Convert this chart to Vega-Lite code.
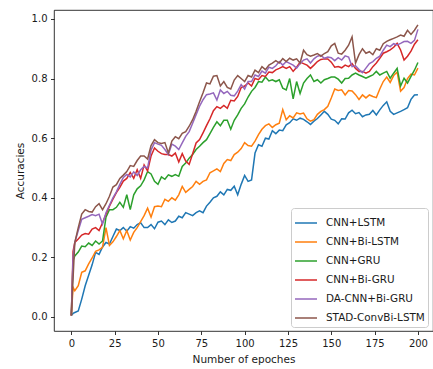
{
  "$schema": "https://vega.github.io/schema/vega-lite/v6.json",
  "width": 379,
  "height": 321,
  "autosize": {"type": "none"},
  "padding": {"left": 54, "top": 10, "right": 0, "bottom": 38},
  "background": "white",
  "config": {
    "font": "DejaVu Sans",
    "view": {"stroke": "#000000", "strokeWidth": 0.8},
    "axis": {
      "domain": false,
      "grid": false,
      "tickColor": "#000000",
      "tickSize": 3.5,
      "tickWidth": 0.8,
      "labelColor": "#1a1a1a",
      "labelFontSize": 10,
      "labelPadding": 3.5,
      "titleColor": "#1a1a1a",
      "titleFontSize": 10.5,
      "titleFontWeight": "normal"
    }
  },
  "data": {
    "values": [
      {"epoch": 0, "CNN+LSTM": 0.005, "CNN+Bi-LSTM": 0.005, "CNN+GRU": 0.005, "CNN+Bi-GRU": 0.005, "DA-CNN+Bi-GRU": 0.005, "STAD-ConvBi-LSTM": 0.005},
      {"epoch": 1, "CNN+LSTM": 0.012, "CNN+Bi-LSTM": 0.1, "CNN+GRU": 0.19, "CNN+Bi-GRU": 0.22, "DA-CNN+Bi-GRU": 0.2, "STAD-ConvBi-LSTM": 0.13},
      {"epoch": 2, "CNN+LSTM": 0.015, "CNN+Bi-LSTM": 0.088, "CNN+GRU": 0.205, "CNN+Bi-GRU": 0.25, "DA-CNN+Bi-GRU": 0.25, "STAD-ConvBi-LSTM": 0.25},
      {"epoch": 4, "CNN+LSTM": 0.02, "CNN+Bi-LSTM": 0.105, "CNN+GRU": 0.218, "CNN+Bi-GRU": 0.262, "DA-CNN+Bi-GRU": 0.29, "STAD-ConvBi-LSTM": 0.3},
      {"epoch": 6, "CNN+LSTM": 0.06, "CNN+Bi-LSTM": 0.15, "CNN+GRU": 0.238, "CNN+Bi-GRU": 0.275, "DA-CNN+Bi-GRU": 0.328, "STAD-ConvBi-LSTM": 0.345},
      {"epoch": 8, "CNN+LSTM": 0.105, "CNN+Bi-LSTM": 0.155, "CNN+GRU": 0.236, "CNN+Bi-GRU": 0.28, "DA-CNN+Bi-GRU": 0.333, "STAD-ConvBi-LSTM": 0.36},
      {"epoch": 10, "CNN+LSTM": 0.14, "CNN+Bi-LSTM": 0.178, "CNN+GRU": 0.248, "CNN+Bi-GRU": 0.278, "DA-CNN+Bi-GRU": 0.338, "STAD-ConvBi-LSTM": 0.354},
      {"epoch": 12, "CNN+LSTM": 0.175, "CNN+Bi-LSTM": 0.198, "CNN+GRU": 0.24, "CNN+Bi-GRU": 0.295, "DA-CNN+Bi-GRU": 0.344, "STAD-ConvBi-LSTM": 0.352},
      {"epoch": 14, "CNN+LSTM": 0.217, "CNN+Bi-LSTM": 0.22, "CNN+GRU": 0.255, "CNN+Bi-GRU": 0.3, "DA-CNN+Bi-GRU": 0.34, "STAD-ConvBi-LSTM": 0.37},
      {"epoch": 16, "CNN+LSTM": 0.21, "CNN+Bi-LSTM": 0.225, "CNN+GRU": 0.245, "CNN+Bi-GRU": 0.29, "DA-CNN+Bi-GRU": 0.345, "STAD-ConvBi-LSTM": 0.38},
      {"epoch": 18, "CNN+LSTM": 0.235, "CNN+Bi-LSTM": 0.234, "CNN+GRU": 0.255, "CNN+Bi-GRU": 0.316, "DA-CNN+Bi-GRU": 0.312, "STAD-ConvBi-LSTM": 0.36},
      {"epoch": 20, "CNN+LSTM": 0.25, "CNN+Bi-LSTM": 0.3, "CNN+GRU": 0.335, "CNN+Bi-GRU": 0.345, "DA-CNN+Bi-GRU": 0.35, "STAD-ConvBi-LSTM": 0.38},
      {"epoch": 22, "CNN+LSTM": 0.245, "CNN+Bi-LSTM": 0.24, "CNN+GRU": 0.36, "CNN+Bi-GRU": 0.372, "DA-CNN+Bi-GRU": 0.375, "STAD-ConvBi-LSTM": 0.405},
      {"epoch": 24, "CNN+LSTM": 0.27, "CNN+Bi-LSTM": 0.252, "CNN+GRU": 0.36, "CNN+Bi-GRU": 0.395, "DA-CNN+Bi-GRU": 0.4, "STAD-ConvBi-LSTM": 0.436},
      {"epoch": 26, "CNN+LSTM": 0.295, "CNN+Bi-LSTM": 0.27, "CNN+GRU": 0.368, "CNN+Bi-GRU": 0.417, "DA-CNN+Bi-GRU": 0.42, "STAD-ConvBi-LSTM": 0.444},
      {"epoch": 28, "CNN+LSTM": 0.29, "CNN+Bi-LSTM": 0.29, "CNN+GRU": 0.385, "CNN+Bi-GRU": 0.435, "DA-CNN+Bi-GRU": 0.445, "STAD-ConvBi-LSTM": 0.465},
      {"epoch": 30, "CNN+LSTM": 0.3, "CNN+Bi-LSTM": 0.262, "CNN+GRU": 0.368, "CNN+Bi-GRU": 0.456, "DA-CNN+Bi-GRU": 0.468, "STAD-ConvBi-LSTM": 0.476},
      {"epoch": 32, "CNN+LSTM": 0.288, "CNN+Bi-LSTM": 0.29, "CNN+GRU": 0.41, "CNN+Bi-GRU": 0.465, "DA-CNN+Bi-GRU": 0.478, "STAD-ConvBi-LSTM": 0.488},
      {"epoch": 34, "CNN+LSTM": 0.303, "CNN+Bi-LSTM": 0.258, "CNN+GRU": 0.36, "CNN+Bi-GRU": 0.485, "DA-CNN+Bi-GRU": 0.47, "STAD-ConvBi-LSTM": 0.508},
      {"epoch": 36, "CNN+LSTM": 0.298, "CNN+Bi-LSTM": 0.284, "CNN+GRU": 0.41, "CNN+Bi-GRU": 0.465, "DA-CNN+Bi-GRU": 0.487, "STAD-ConvBi-LSTM": 0.505},
      {"epoch": 38, "CNN+LSTM": 0.31, "CNN+Bi-LSTM": 0.3, "CNN+GRU": 0.43, "CNN+Bi-GRU": 0.494, "DA-CNN+Bi-GRU": 0.475, "STAD-ConvBi-LSTM": 0.525},
      {"epoch": 40, "CNN+LSTM": 0.316, "CNN+Bi-LSTM": 0.32, "CNN+GRU": 0.44, "CNN+Bi-GRU": 0.465, "DA-CNN+Bi-GRU": 0.494, "STAD-ConvBi-LSTM": 0.54},
      {"epoch": 42, "CNN+LSTM": 0.3, "CNN+Bi-LSTM": 0.34, "CNN+GRU": 0.46, "CNN+Bi-GRU": 0.51, "DA-CNN+Bi-GRU": 0.505, "STAD-ConvBi-LSTM": 0.54},
      {"epoch": 44, "CNN+LSTM": 0.3, "CNN+Bi-LSTM": 0.365, "CNN+GRU": 0.488, "CNN+Bi-GRU": 0.49, "DA-CNN+Bi-GRU": 0.5, "STAD-ConvBi-LSTM": 0.53},
      {"epoch": 46, "CNN+LSTM": 0.31, "CNN+Bi-LSTM": 0.335, "CNN+GRU": 0.48, "CNN+Bi-GRU": 0.54, "DA-CNN+Bi-GRU": 0.56, "STAD-ConvBi-LSTM": 0.575},
      {"epoch": 48, "CNN+LSTM": 0.296, "CNN+Bi-LSTM": 0.37, "CNN+GRU": 0.455, "CNN+Bi-GRU": 0.567, "DA-CNN+Bi-GRU": 0.585, "STAD-ConvBi-LSTM": 0.595},
      {"epoch": 50, "CNN+LSTM": 0.318, "CNN+Bi-LSTM": 0.372, "CNN+GRU": 0.445, "CNN+Bi-GRU": 0.556, "DA-CNN+Bi-GRU": 0.58, "STAD-ConvBi-LSTM": 0.585},
      {"epoch": 52, "CNN+LSTM": 0.322, "CNN+Bi-LSTM": 0.37, "CNN+GRU": 0.47, "CNN+Bi-GRU": 0.548, "DA-CNN+Bi-GRU": 0.576, "STAD-ConvBi-LSTM": 0.582},
      {"epoch": 54, "CNN+LSTM": 0.31, "CNN+Bi-LSTM": 0.395, "CNN+GRU": 0.462, "CNN+Bi-GRU": 0.545, "DA-CNN+Bi-GRU": 0.562, "STAD-ConvBi-LSTM": 0.585},
      {"epoch": 56, "CNN+LSTM": 0.326, "CNN+Bi-LSTM": 0.388, "CNN+GRU": 0.477, "CNN+Bi-GRU": 0.545, "DA-CNN+Bi-GRU": 0.545, "STAD-ConvBi-LSTM": 0.55},
      {"epoch": 58, "CNN+LSTM": 0.317, "CNN+Bi-LSTM": 0.4, "CNN+GRU": 0.472, "CNN+Bi-GRU": 0.54, "DA-CNN+Bi-GRU": 0.58, "STAD-ConvBi-LSTM": 0.59},
      {"epoch": 60, "CNN+LSTM": 0.322, "CNN+Bi-LSTM": 0.392, "CNN+GRU": 0.478, "CNN+Bi-GRU": 0.55, "DA-CNN+Bi-GRU": 0.573, "STAD-ConvBi-LSTM": 0.605},
      {"epoch": 62, "CNN+LSTM": 0.338, "CNN+Bi-LSTM": 0.41, "CNN+GRU": 0.472, "CNN+Bi-GRU": 0.52, "DA-CNN+Bi-GRU": 0.562, "STAD-ConvBi-LSTM": 0.598},
      {"epoch": 64, "CNN+LSTM": 0.333, "CNN+Bi-LSTM": 0.438, "CNN+GRU": 0.505, "CNN+Bi-GRU": 0.548, "DA-CNN+Bi-GRU": 0.584, "STAD-ConvBi-LSTM": 0.616},
      {"epoch": 66, "CNN+LSTM": 0.35, "CNN+Bi-LSTM": 0.418, "CNN+GRU": 0.517, "CNN+Bi-GRU": 0.523, "DA-CNN+Bi-GRU": 0.606, "STAD-ConvBi-LSTM": 0.622},
      {"epoch": 68, "CNN+LSTM": 0.345, "CNN+Bi-LSTM": 0.428, "CNN+GRU": 0.533, "CNN+Bi-GRU": 0.512, "DA-CNN+Bi-GRU": 0.622, "STAD-ConvBi-LSTM": 0.64},
      {"epoch": 70, "CNN+LSTM": 0.34, "CNN+Bi-LSTM": 0.438, "CNN+GRU": 0.545, "CNN+Bi-GRU": 0.548, "DA-CNN+Bi-GRU": 0.65, "STAD-ConvBi-LSTM": 0.662},
      {"epoch": 72, "CNN+LSTM": 0.35, "CNN+Bi-LSTM": 0.455, "CNN+GRU": 0.562, "CNN+Bi-GRU": 0.584, "DA-CNN+Bi-GRU": 0.679, "STAD-ConvBi-LSTM": 0.69},
      {"epoch": 74, "CNN+LSTM": 0.356, "CNN+Bi-LSTM": 0.445, "CNN+GRU": 0.573, "CNN+Bi-GRU": 0.595, "DA-CNN+Bi-GRU": 0.707, "STAD-ConvBi-LSTM": 0.722},
      {"epoch": 76, "CNN+LSTM": 0.35, "CNN+Bi-LSTM": 0.455, "CNN+GRU": 0.585, "CNN+Bi-GRU": 0.618, "DA-CNN+Bi-GRU": 0.729, "STAD-ConvBi-LSTM": 0.752},
      {"epoch": 78, "CNN+LSTM": 0.372, "CNN+Bi-LSTM": 0.46, "CNN+GRU": 0.595, "CNN+Bi-GRU": 0.642, "DA-CNN+Bi-GRU": 0.746, "STAD-ConvBi-LSTM": 0.785},
      {"epoch": 80, "CNN+LSTM": 0.385, "CNN+Bi-LSTM": 0.484, "CNN+GRU": 0.615, "CNN+Bi-GRU": 0.665, "DA-CNN+Bi-GRU": 0.748, "STAD-ConvBi-LSTM": 0.782},
      {"epoch": 82, "CNN+LSTM": 0.4, "CNN+Bi-LSTM": 0.49, "CNN+GRU": 0.636, "CNN+Bi-GRU": 0.692, "DA-CNN+Bi-GRU": 0.752, "STAD-ConvBi-LSTM": 0.808},
      {"epoch": 84, "CNN+LSTM": 0.405, "CNN+Bi-LSTM": 0.497, "CNN+GRU": 0.655, "CNN+Bi-GRU": 0.706, "DA-CNN+Bi-GRU": 0.728, "STAD-ConvBi-LSTM": 0.81},
      {"epoch": 86, "CNN+LSTM": 0.42, "CNN+Bi-LSTM": 0.488, "CNN+GRU": 0.642, "CNN+Bi-GRU": 0.7, "DA-CNN+Bi-GRU": 0.762, "STAD-ConvBi-LSTM": 0.775},
      {"epoch": 88, "CNN+LSTM": 0.41, "CNN+Bi-LSTM": 0.515, "CNN+GRU": 0.66, "CNN+Bi-GRU": 0.71, "DA-CNN+Bi-GRU": 0.75, "STAD-ConvBi-LSTM": 0.79},
      {"epoch": 90, "CNN+LSTM": 0.428, "CNN+Bi-LSTM": 0.528, "CNN+GRU": 0.66, "CNN+Bi-GRU": 0.7, "DA-CNN+Bi-GRU": 0.757, "STAD-ConvBi-LSTM": 0.77},
      {"epoch": 92, "CNN+LSTM": 0.425, "CNN+Bi-LSTM": 0.525, "CNN+GRU": 0.63, "CNN+Bi-GRU": 0.727, "DA-CNN+Bi-GRU": 0.744, "STAD-ConvBi-LSTM": 0.765},
      {"epoch": 94, "CNN+LSTM": 0.439, "CNN+Bi-LSTM": 0.545, "CNN+GRU": 0.66, "CNN+Bi-GRU": 0.725, "DA-CNN+Bi-GRU": 0.742, "STAD-ConvBi-LSTM": 0.795},
      {"epoch": 96, "CNN+LSTM": 0.41, "CNN+Bi-LSTM": 0.553, "CNN+GRU": 0.678, "CNN+Bi-GRU": 0.74, "DA-CNN+Bi-GRU": 0.758, "STAD-ConvBi-LSTM": 0.81},
      {"epoch": 98, "CNN+LSTM": 0.445, "CNN+Bi-LSTM": 0.565, "CNN+GRU": 0.7, "CNN+Bi-GRU": 0.77, "DA-CNN+Bi-GRU": 0.78, "STAD-ConvBi-LSTM": 0.8},
      {"epoch": 100, "CNN+LSTM": 0.475, "CNN+Bi-LSTM": 0.585, "CNN+GRU": 0.715, "CNN+Bi-GRU": 0.775, "DA-CNN+Bi-GRU": 0.765, "STAD-ConvBi-LSTM": 0.79},
      {"epoch": 102, "CNN+LSTM": 0.455, "CNN+Bi-LSTM": 0.575, "CNN+GRU": 0.738, "CNN+Bi-GRU": 0.785, "DA-CNN+Bi-GRU": 0.79, "STAD-ConvBi-LSTM": 0.81},
      {"epoch": 104, "CNN+LSTM": 0.46, "CNN+Bi-LSTM": 0.573, "CNN+GRU": 0.757, "CNN+Bi-GRU": 0.775, "DA-CNN+Bi-GRU": 0.79, "STAD-ConvBi-LSTM": 0.805},
      {"epoch": 106, "CNN+LSTM": 0.55, "CNN+Bi-LSTM": 0.59, "CNN+GRU": 0.77, "CNN+Bi-GRU": 0.8, "DA-CNN+Bi-GRU": 0.812, "STAD-ConvBi-LSTM": 0.828},
      {"epoch": 108, "CNN+LSTM": 0.578, "CNN+Bi-LSTM": 0.612, "CNN+GRU": 0.79, "CNN+Bi-GRU": 0.796, "DA-CNN+Bi-GRU": 0.807, "STAD-ConvBi-LSTM": 0.82},
      {"epoch": 110, "CNN+LSTM": 0.573, "CNN+Bi-LSTM": 0.63, "CNN+GRU": 0.788, "CNN+Bi-GRU": 0.81, "DA-CNN+Bi-GRU": 0.825, "STAD-ConvBi-LSTM": 0.84},
      {"epoch": 112, "CNN+LSTM": 0.6, "CNN+Bi-LSTM": 0.642, "CNN+GRU": 0.805, "CNN+Bi-GRU": 0.807, "DA-CNN+Bi-GRU": 0.818, "STAD-ConvBi-LSTM": 0.83},
      {"epoch": 114, "CNN+LSTM": 0.597, "CNN+Bi-LSTM": 0.648, "CNN+GRU": 0.792, "CNN+Bi-GRU": 0.822, "DA-CNN+Bi-GRU": 0.838, "STAD-ConvBi-LSTM": 0.845},
      {"epoch": 116, "CNN+LSTM": 0.625, "CNN+Bi-LSTM": 0.636, "CNN+GRU": 0.796, "CNN+Bi-GRU": 0.82, "DA-CNN+Bi-GRU": 0.834, "STAD-ConvBi-LSTM": 0.852},
      {"epoch": 118, "CNN+LSTM": 0.615, "CNN+Bi-LSTM": 0.645, "CNN+GRU": 0.79, "CNN+Bi-GRU": 0.829, "DA-CNN+Bi-GRU": 0.843, "STAD-ConvBi-LSTM": 0.86},
      {"epoch": 120, "CNN+LSTM": 0.627, "CNN+Bi-LSTM": 0.65, "CNN+GRU": 0.796, "CNN+Bi-GRU": 0.834, "DA-CNN+Bi-GRU": 0.857, "STAD-ConvBi-LSTM": 0.852},
      {"epoch": 122, "CNN+LSTM": 0.625, "CNN+Bi-LSTM": 0.696, "CNN+GRU": 0.768, "CNN+Bi-GRU": 0.84, "DA-CNN+Bi-GRU": 0.845, "STAD-ConvBi-LSTM": 0.867},
      {"epoch": 124, "CNN+LSTM": 0.645, "CNN+Bi-LSTM": 0.662, "CNN+GRU": 0.762, "CNN+Bi-GRU": 0.834, "DA-CNN+Bi-GRU": 0.857, "STAD-ConvBi-LSTM": 0.857},
      {"epoch": 126, "CNN+LSTM": 0.652, "CNN+Bi-LSTM": 0.675, "CNN+GRU": 0.8, "CNN+Bi-GRU": 0.84, "DA-CNN+Bi-GRU": 0.851, "STAD-ConvBi-LSTM": 0.868},
      {"epoch": 128, "CNN+LSTM": 0.665, "CNN+Bi-LSTM": 0.668, "CNN+GRU": 0.732, "CNN+Bi-GRU": 0.824, "DA-CNN+Bi-GRU": 0.845, "STAD-ConvBi-LSTM": 0.862},
      {"epoch": 130, "CNN+LSTM": 0.66, "CNN+Bi-LSTM": 0.685, "CNN+GRU": 0.79, "CNN+Bi-GRU": 0.838, "DA-CNN+Bi-GRU": 0.835, "STAD-ConvBi-LSTM": 0.866},
      {"epoch": 132, "CNN+LSTM": 0.667, "CNN+Bi-LSTM": 0.681, "CNN+GRU": 0.75, "CNN+Bi-GRU": 0.855, "DA-CNN+Bi-GRU": 0.85, "STAD-ConvBi-LSTM": 0.852},
      {"epoch": 134, "CNN+LSTM": 0.663, "CNN+Bi-LSTM": 0.684, "CNN+GRU": 0.785, "CNN+Bi-GRU": 0.85, "DA-CNN+Bi-GRU": 0.862, "STAD-ConvBi-LSTM": 0.895},
      {"epoch": 136, "CNN+LSTM": 0.655, "CNN+Bi-LSTM": 0.665, "CNN+GRU": 0.8, "CNN+Bi-GRU": 0.845, "DA-CNN+Bi-GRU": 0.866, "STAD-ConvBi-LSTM": 0.88},
      {"epoch": 138, "CNN+LSTM": 0.646, "CNN+Bi-LSTM": 0.657, "CNN+GRU": 0.812, "CNN+Bi-GRU": 0.834, "DA-CNN+Bi-GRU": 0.852, "STAD-ConvBi-LSTM": 0.875},
      {"epoch": 140, "CNN+LSTM": 0.657, "CNN+Bi-LSTM": 0.662, "CNN+GRU": 0.79, "CNN+Bi-GRU": 0.845, "DA-CNN+Bi-GRU": 0.866, "STAD-ConvBi-LSTM": 0.879},
      {"epoch": 142, "CNN+LSTM": 0.666, "CNN+Bi-LSTM": 0.68, "CNN+GRU": 0.796, "CNN+Bi-GRU": 0.857, "DA-CNN+Bi-GRU": 0.875, "STAD-ConvBi-LSTM": 0.884},
      {"epoch": 144, "CNN+LSTM": 0.678, "CNN+Bi-LSTM": 0.69, "CNN+GRU": 0.785, "CNN+Bi-GRU": 0.864, "DA-CNN+Bi-GRU": 0.878, "STAD-ConvBi-LSTM": 0.875},
      {"epoch": 146, "CNN+LSTM": 0.69, "CNN+Bi-LSTM": 0.696, "CNN+GRU": 0.796, "CNN+Bi-GRU": 0.866, "DA-CNN+Bi-GRU": 0.868, "STAD-ConvBi-LSTM": 0.884},
      {"epoch": 148, "CNN+LSTM": 0.68, "CNN+Bi-LSTM": 0.707, "CNN+GRU": 0.8, "CNN+Bi-GRU": 0.866, "DA-CNN+Bi-GRU": 0.872, "STAD-ConvBi-LSTM": 0.89},
      {"epoch": 150, "CNN+LSTM": 0.664, "CNN+Bi-LSTM": 0.735, "CNN+GRU": 0.805, "CNN+Bi-GRU": 0.855, "DA-CNN+Bi-GRU": 0.87, "STAD-ConvBi-LSTM": 0.91},
      {"epoch": 152, "CNN+LSTM": 0.66, "CNN+Bi-LSTM": 0.765, "CNN+GRU": 0.805, "CNN+Bi-GRU": 0.838, "DA-CNN+Bi-GRU": 0.86, "STAD-ConvBi-LSTM": 0.918},
      {"epoch": 154, "CNN+LSTM": 0.648, "CNN+Bi-LSTM": 0.76, "CNN+GRU": 0.798, "CNN+Bi-GRU": 0.84, "DA-CNN+Bi-GRU": 0.87, "STAD-ConvBi-LSTM": 0.885},
      {"epoch": 156, "CNN+LSTM": 0.665, "CNN+Bi-LSTM": 0.762, "CNN+GRU": 0.785, "CNN+Bi-GRU": 0.836, "DA-CNN+Bi-GRU": 0.862, "STAD-ConvBi-LSTM": 0.882},
      {"epoch": 158, "CNN+LSTM": 0.664, "CNN+Bi-LSTM": 0.745, "CNN+GRU": 0.8, "CNN+Bi-GRU": 0.845, "DA-CNN+Bi-GRU": 0.876, "STAD-ConvBi-LSTM": 0.895},
      {"epoch": 160, "CNN+LSTM": 0.685, "CNN+Bi-LSTM": 0.76, "CNN+GRU": 0.801, "CNN+Bi-GRU": 0.84, "DA-CNN+Bi-GRU": 0.872, "STAD-ConvBi-LSTM": 0.912},
      {"epoch": 162, "CNN+LSTM": 0.694, "CNN+Bi-LSTM": 0.758, "CNN+GRU": 0.812, "CNN+Bi-GRU": 0.85, "DA-CNN+Bi-GRU": 0.84, "STAD-ConvBi-LSTM": 0.94},
      {"epoch": 164, "CNN+LSTM": 0.682, "CNN+Bi-LSTM": 0.746, "CNN+GRU": 0.818, "CNN+Bi-GRU": 0.834, "DA-CNN+Bi-GRU": 0.843, "STAD-ConvBi-LSTM": 0.852},
      {"epoch": 166, "CNN+LSTM": 0.686, "CNN+Bi-LSTM": 0.73, "CNN+GRU": 0.812, "CNN+Bi-GRU": 0.824, "DA-CNN+Bi-GRU": 0.83, "STAD-ConvBi-LSTM": 0.88},
      {"epoch": 168, "CNN+LSTM": 0.672, "CNN+Bi-LSTM": 0.745, "CNN+GRU": 0.807, "CNN+Bi-GRU": 0.824, "DA-CNN+Bi-GRU": 0.82, "STAD-ConvBi-LSTM": 0.9},
      {"epoch": 170, "CNN+LSTM": 0.678, "CNN+Bi-LSTM": 0.735, "CNN+GRU": 0.801, "CNN+Bi-GRU": 0.818, "DA-CNN+Bi-GRU": 0.835, "STAD-ConvBi-LSTM": 0.885},
      {"epoch": 172, "CNN+LSTM": 0.68, "CNN+Bi-LSTM": 0.745, "CNN+GRU": 0.807, "CNN+Bi-GRU": 0.824, "DA-CNN+Bi-GRU": 0.85, "STAD-ConvBi-LSTM": 0.89},
      {"epoch": 174, "CNN+LSTM": 0.693, "CNN+Bi-LSTM": 0.74, "CNN+GRU": 0.812, "CNN+Bi-GRU": 0.84, "DA-CNN+Bi-GRU": 0.857, "STAD-ConvBi-LSTM": 0.88},
      {"epoch": 176, "CNN+LSTM": 0.678, "CNN+Bi-LSTM": 0.736, "CNN+GRU": 0.824, "CNN+Bi-GRU": 0.852, "DA-CNN+Bi-GRU": 0.868, "STAD-ConvBi-LSTM": 0.9},
      {"epoch": 178, "CNN+LSTM": 0.695, "CNN+Bi-LSTM": 0.765, "CNN+GRU": 0.812, "CNN+Bi-GRU": 0.868, "DA-CNN+Bi-GRU": 0.875, "STAD-ConvBi-LSTM": 0.895},
      {"epoch": 180, "CNN+LSTM": 0.71, "CNN+Bi-LSTM": 0.79, "CNN+GRU": 0.818, "CNN+Bi-GRU": 0.885, "DA-CNN+Bi-GRU": 0.895, "STAD-ConvBi-LSTM": 0.917},
      {"epoch": 182, "CNN+LSTM": 0.722, "CNN+Bi-LSTM": 0.805, "CNN+GRU": 0.824, "CNN+Bi-GRU": 0.89, "DA-CNN+Bi-GRU": 0.912, "STAD-ConvBi-LSTM": 0.925},
      {"epoch": 184, "CNN+LSTM": 0.69, "CNN+Bi-LSTM": 0.787, "CNN+GRU": 0.801, "CNN+Bi-GRU": 0.896, "DA-CNN+Bi-GRU": 0.907, "STAD-ConvBi-LSTM": 0.93},
      {"epoch": 186, "CNN+LSTM": 0.68, "CNN+Bi-LSTM": 0.81, "CNN+GRU": 0.818, "CNN+Bi-GRU": 0.905, "DA-CNN+Bi-GRU": 0.917, "STAD-ConvBi-LSTM": 0.935},
      {"epoch": 188, "CNN+LSTM": 0.685, "CNN+Bi-LSTM": 0.822, "CNN+GRU": 0.834, "CNN+Bi-GRU": 0.918, "DA-CNN+Bi-GRU": 0.913, "STAD-ConvBi-LSTM": 0.94},
      {"epoch": 190, "CNN+LSTM": 0.69, "CNN+Bi-LSTM": 0.758, "CNN+GRU": 0.775, "CNN+Bi-GRU": 0.896, "DA-CNN+Bi-GRU": 0.918, "STAD-ConvBi-LSTM": 0.946},
      {"epoch": 192, "CNN+LSTM": 0.696, "CNN+Bi-LSTM": 0.77, "CNN+GRU": 0.801, "CNN+Bi-GRU": 0.862, "DA-CNN+Bi-GRU": 0.924, "STAD-ConvBi-LSTM": 0.942},
      {"epoch": 194, "CNN+LSTM": 0.702, "CNN+Bi-LSTM": 0.8, "CNN+GRU": 0.785, "CNN+Bi-GRU": 0.875, "DA-CNN+Bi-GRU": 0.925, "STAD-ConvBi-LSTM": 0.962},
      {"epoch": 196, "CNN+LSTM": 0.73, "CNN+Bi-LSTM": 0.815, "CNN+GRU": 0.807, "CNN+Bi-GRU": 0.892, "DA-CNN+Bi-GRU": 0.918, "STAD-ConvBi-LSTM": 0.948},
      {"epoch": 198, "CNN+LSTM": 0.745, "CNN+Bi-LSTM": 0.812, "CNN+GRU": 0.828, "CNN+Bi-GRU": 0.915, "DA-CNN+Bi-GRU": 0.928, "STAD-ConvBi-LSTM": 0.962},
      {"epoch": 200, "CNN+LSTM": 0.746, "CNN+Bi-LSTM": 0.835, "CNN+GRU": 0.854, "CNN+Bi-GRU": 0.93, "DA-CNN+Bi-GRU": 0.965, "STAD-ConvBi-LSTM": 0.98}
    ]
  },
  "transform": [
    {"fold": ["CNN+LSTM", "CNN+Bi-LSTM", "CNN+GRU", "CNN+Bi-GRU", "DA-CNN+Bi-GRU", "STAD-ConvBi-LSTM"], "as": ["model", "accuracy"]}
  ],
  "mark": {"type": "line", "strokeWidth": 1.5, "clip": true},
  "encoding": {
    "x": {
      "field": "epoch",
      "type": "quantitative",
      "scale": {"domain": [-10, 208.7], "nice": false, "zero": false},
      "axis": {"values": [0, 25, 50, 75, 100, 125, 150, 175, 200], "title": "Number of epoches", "titlePadding": 6}
    },
    "y": {
      "field": "accuracy",
      "type": "quantitative",
      "scale": {"domain": [-0.047, 1.03], "nice": false, "zero": false},
      "axis": {"values": [0, 0.2, 0.4, 0.6, 0.8, 1.0], "format": ".1f", "title": "Accuracies", "titlePadding": 6}
    },
    "color": {
      "field": "model",
      "type": "nominal",
      "scale": {
        "domain": ["CNN+LSTM", "CNN+Bi-LSTM", "CNN+GRU", "CNN+Bi-GRU", "DA-CNN+Bi-GRU", "STAD-ConvBi-LSTM"],
        "range": ["#1f77b4", "#ff7f0e", "#2ca02c", "#d62728", "#9467bd", "#8c564b"]
      },
      "legend": {
        "title": null,
        "orient": "none",
        "legendX": 237,
        "legendY": 198,
        "symbolType": "stroke",
        "symbolSize": 484,
        "symbolStrokeWidth": 1.5,
        "labelFontSize": 10.4,
        "labelColor": "#1a1a1a",
        "labelOffset": 8,
        "rowPadding": 1,
        "padding": 3,
        "fillColor": "rgba(255,255,255,0.8)",
        "strokeColor": "#cccccc",
        "cornerRadius": 3
      }
    }
  }
}
